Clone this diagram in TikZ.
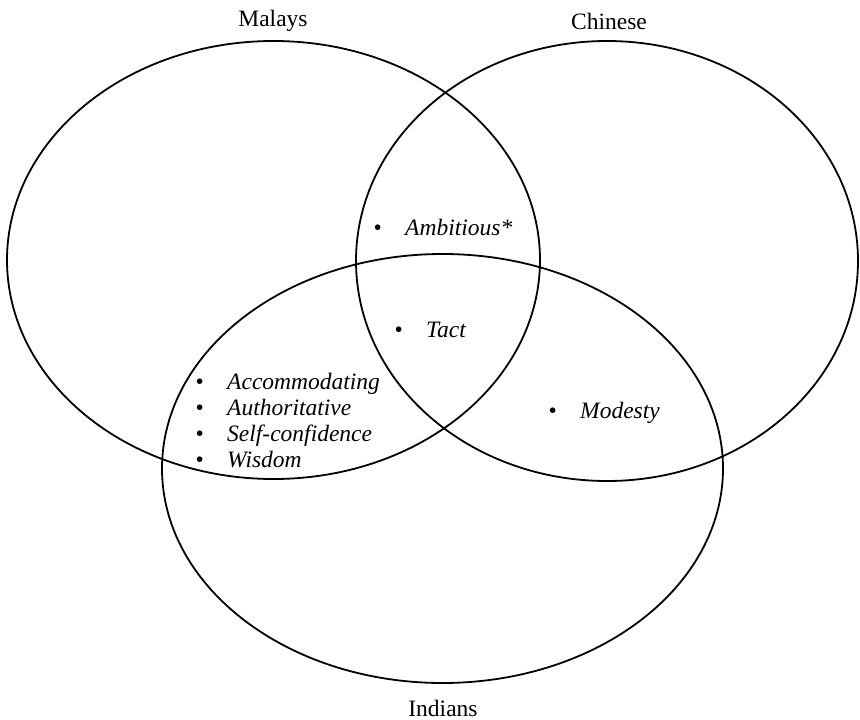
\documentclass[tikz,border=0pt]{standalone}
\usepackage{fontspec}
\setmainfont{Liberation Serif}
\usetikzlibrary{shapes.geometric}

\newcommand{\dotmark}{\textbullet\hspace{23.5pt}}

\begin{document}
\begin{tikzpicture}[x=1pt, y=-1pt,
  every node/.style={inner sep=0pt, outer sep=0pt, font=\fontsize{23.5}{26}\selectfont},
  ring/.style={draw, ellipse, line width=1.8pt},
  item/.style={anchor=west, align=left}]
\useasboundingbox (0,0) rectangle (860,720);
% the three groups
\node[ring, minimum width=533, minimum height=438] (malays) at (273.5,260) {};
\node[ring, minimum width=502, minimum height=440] (chinese) at (607,261) {};
\node[ring, minimum width=561, minimum height=429] (indians) at (442.5,468.5) {};

\node (malaysname) at (273,21) {Malays};
\node (chinesename) at (609,21) {Chinese};
\node (indiansname) at (443,708) {Indians};

% traits
\node[item] (ambitious) at (373.5,227) {\dotmark\textit{Ambitious*}};
\node[item] (tact) at (394.5,330) {\dotmark\textit{Tact}};
\node[item] (modesty) at (548.5,413) {\dotmark\textit{Modesty}};
\node[item] (malayindian) at (195.5,421) {\dotmark\textit{Accommodating}\\
  \dotmark\textit{Authoritative}\\
  \dotmark\textit{Self-confidence}\\
  \dotmark\textit{Wisdom}};
\end{tikzpicture}
\end{document}
